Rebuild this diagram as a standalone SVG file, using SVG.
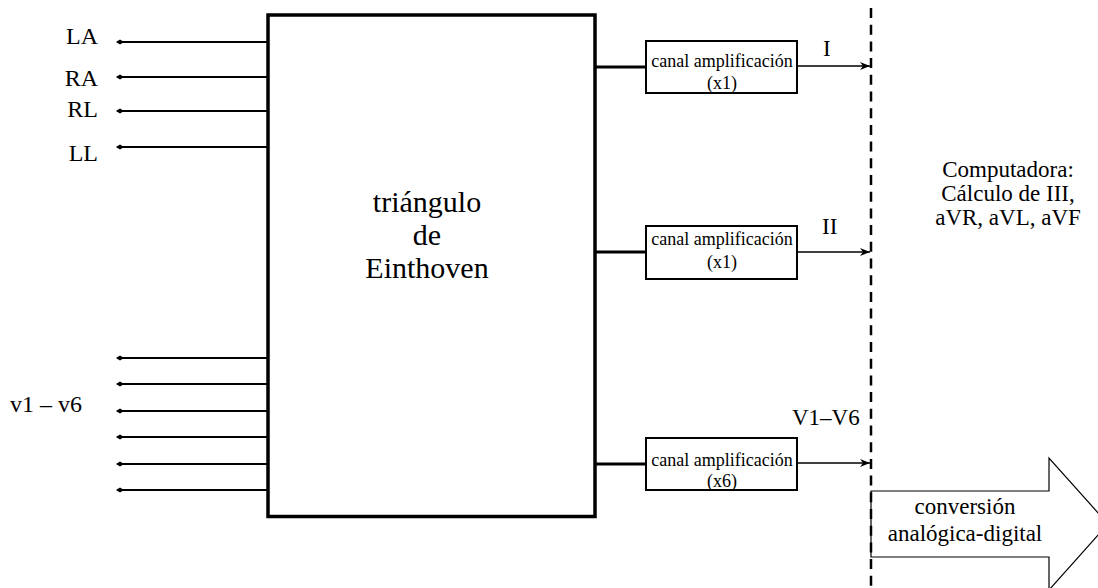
<svg xmlns="http://www.w3.org/2000/svg" width="1098" height="588" viewBox="0 0 1098 588">
<style>
text{font-family:"Liberation Serif","Times New Roman",serif;fill:#000}
.lbl{font-size:23px}
.lft{font-size:24px}
.end{text-anchor:end}
.main{font-size:30px;text-anchor:middle}
.amp{font-size:18px;text-anchor:middle}
.comp{font-size:23px;text-anchor:middle}
.wire{stroke:#000;stroke-width:2;fill:none;marker-start:url(#dia)}
.thick{stroke:#000;stroke-width:3;fill:none}
.out{stroke:#000;stroke-width:1.5;fill:none;marker-end:url(#arr)}
.box{fill:#fff;stroke:#000;stroke-width:2}
</style>
<defs>
<marker id="dia" viewBox="0 0 8 6" refX="1" refY="3" markerWidth="8" markerHeight="6" markerUnits="userSpaceOnUse" orient="auto">
<path d="M0,3 L4,0.5 L8,3 L4,5.5 Z" fill="#000"/>
</marker>
<marker id="arr" viewBox="0 0 10 8" refX="10" refY="4" markerWidth="10" markerHeight="8" markerUnits="userSpaceOnUse" orient="auto">
<path d="M0,0 L10,4 L0,8 L3,4 Z" fill="#000"/>
</marker>
</defs>
<rect width="1098" height="588" fill="#fff"/>

<g id="connectors">
<line class="wire" x1="117" y1="42" x2="268" y2="42"/>
<line class="wire" x1="117" y1="77" x2="268" y2="77"/>
<line class="wire" x1="117" y1="111" x2="268" y2="111"/>
<line class="wire" x1="117" y1="147" x2="268" y2="147"/>
<line class="wire" x1="117" y1="358" x2="268" y2="358"/>
<line class="wire" x1="117" y1="384" x2="268" y2="384"/>
<line class="wire" x1="117" y1="411" x2="268" y2="411"/>
<line class="wire" x1="117" y1="437" x2="268" y2="437"/>
<line class="wire" x1="117" y1="464" x2="268" y2="464"/>
<line class="wire" x1="117" y1="490" x2="268" y2="490"/>
<line class="thick" x1="595" y1="67" x2="646" y2="67"/>
<line class="thick" x1="595" y1="252" x2="646" y2="252"/>
<line class="thick" x1="595" y1="464" x2="646" y2="464"/>
<line class="out" x1="797" y1="66" x2="870" y2="66"/>
<line class="out" x1="797" y1="252" x2="870" y2="252"/>
<line class="out" x1="797" y1="463" x2="870" y2="463"/>
</g>

<g id="labels-left">
<text class="lft end" x="98" y="44">LA</text>
<text class="lft end" x="98" y="86">RA</text>
<text class="lft end" x="98" y="117">RL</text>
<text class="lft end" x="98" y="161">LL</text>
<text class="lft" x="10" y="412">v1 – v6</text>
</g>

<g id="einthoven">
<rect x="268" y="15" width="327" height="501.5" fill="#fff" stroke="#000" stroke-width="3.5"/>
<text class="main" x="427" y="212">triángulo</text>
<text class="main" x="427" y="245">de</text>
<text class="main" x="427" y="278">Einthoven</text>
</g>

<g id="amp1">
<rect class="box" x="646" y="41" width="151" height="52"/>
<text class="amp" x="722" y="67">canal amplificación</text>
<text class="amp" x="722" y="89">(x1)</text>
</g>
<g id="amp2">
<rect class="box" x="646" y="226" width="151" height="53"/>
<text class="amp" x="722" y="245">canal amplificación</text>
<text class="amp" x="722" y="268">(x1)</text>
</g>
<g id="amp3">
<rect class="box" x="646" y="438" width="151" height="52"/>
<text class="amp" x="722" y="466">canal amplificación</text>
<text class="amp" x="722" y="487">(x6)</text>
</g>

<g id="output-labels">
<text class="lbl" x="823" y="56">I</text>
<text class="lbl" x="822" y="234">II</text>
<text class="lbl" x="792" y="425">V1–V6</text>
</g>

<g id="adc">
<polygon points="871,491 1049,491 1049,458 1108,524 1049,590 1049,557 871,557" fill="#fff" stroke="#000" stroke-width="1.2"/>
<text class="comp" x="965" y="514">conversión</text>
<text class="comp" x="965" y="541">analógica-digital</text>
</g>

<g id="divider">
<line x1="871" y1="8" x2="871" y2="588" stroke="#000" stroke-width="2.5" stroke-dasharray="10,6.7"/>
</g>

<g id="computer">
<text class="comp" x="1008" y="177">Computadora:</text>
<text class="comp" x="1008" y="201">Cálculo de III,</text>
<text class="comp" x="1008" y="225">aVR, aVL, aVF</text>
</g>
</svg>
